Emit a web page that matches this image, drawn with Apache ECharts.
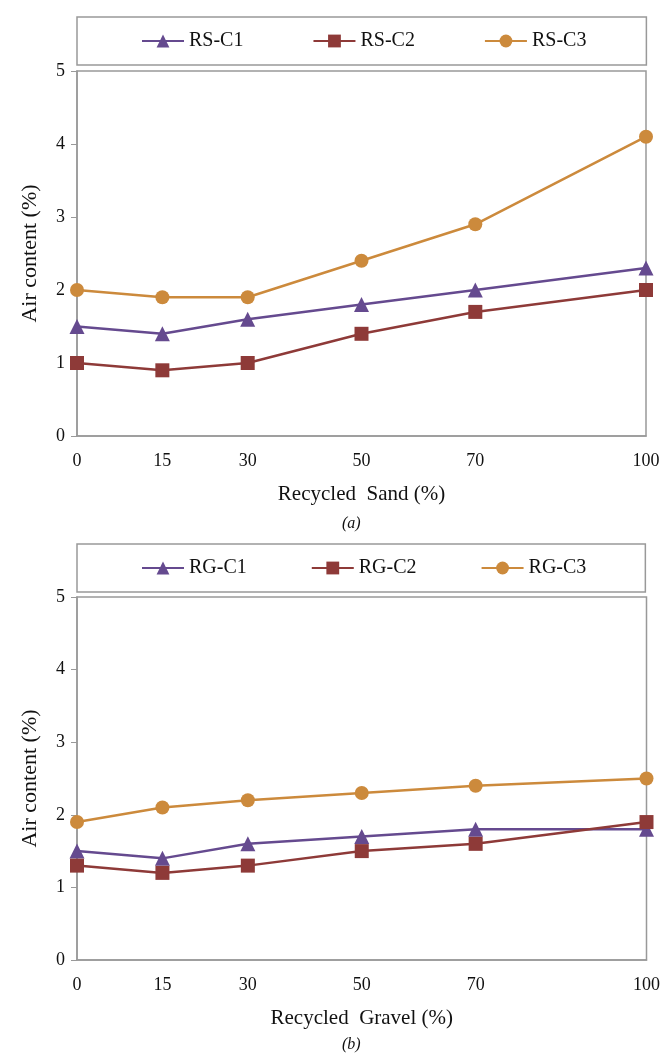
<!DOCTYPE html>
<html>
<head>
<meta charset="utf-8">
<script src="https://cdn.jsdelivr.net/npm/echarts@6/dist/echarts.min.js"></script>
<style>
  html, body { margin: 0; padding: 0; background: #fff; }
  #chart { width: 663px; height: 1053px; }
</style>
</head>
<body>
<div id="chart"></div>
<script>
// x positions (percent replacement)
var xTicks = [0, 15, 30, 50, 70, 100];

// panel (a) - recycled sand
var rsC1 = [1.5, 1.4, 1.6, 1.8, 2.0, 2.3];
var rsC2 = [1.0, 0.9, 1.0, 1.4, 1.7, 2.0];
var rsC3 = [2.0, 1.9, 1.9, 2.4, 2.9, 4.1];

// panel (b) - recycled gravel
var rgC1 = [1.5, 1.4, 1.6, 1.7, 1.8, 1.8];
var rgC2 = [1.3, 1.2, 1.3, 1.5, 1.6, 1.9];
var rgC3 = [1.9, 2.1, 2.2, 2.3, 2.4, 2.5];

var colors = ['#654a8f', '#8e3a38', '#cc8a3c'];
var symbols = ['triangle', 'rect', 'circle'];
var font = '"Liberation Serif", "Times New Roman", serif';

function pairs(vals) {
    return xTicks.map(function (x, i) { return [x, vals[i]]; });
}

function line(name, vals, k, idx) {
    return {
        name: name,
        type: 'line',
        xAxisIndex: idx,
        yAxisIndex: idx,
        data: pairs(vals),
        symbol: symbols[k],
        symbolSize: k === 0 ? 15 : 14,
        color: colors[k],
        lineStyle: { width: 2.5, color: colors[k] },
        itemStyle: { color: colors[k] },
        z: 3 + k
    };
}

function xAxis(idx, title) {
    return {
        type: 'value', gridIndex: idx, min: 0, max: 100,
        name: title, nameLocation: 'middle', nameGap: 48,
        nameTextStyle: { fontFamily: font, fontSize: 21, color: '#111' },
        axisLine: { lineStyle: { color: '#999', width: 1.5 } },
        axisTick: { show: false },
        splitLine: { show: false },
        axisLabel: { customValues: xTicks, fontFamily: font, fontSize: 18, color: '#111', margin: 16 }
    };
}

function yAxis(idx) {
    return {
        type: 'value', gridIndex: idx, min: 0, max: 5, interval: 1,
        name: 'Air content (%)', nameLocation: 'middle', nameGap: 36,
        nameTextStyle: { fontFamily: font, fontSize: 22, color: '#111' },
        axisLine: { show: true, lineStyle: { color: '#999', width: 1.5 } },
        axisTick: { show: true, length: 6, lineStyle: { color: '#999' } },
        splitLine: { show: false },
        axisLabel: { fontFamily: font, fontSize: 18, color: '#111', margin: 12 }
    };
}

function legend(top, names, gap, padR) {
    return {
        data: names, top: top, left: 77,
        padding: [14, padR, 14, 64],
        borderColor: '#999', borderWidth: 1.5,
        itemWidth: 42, itemHeight: 16, itemGap: gap,
        textStyle: { fontFamily: font, fontSize: 20, color: '#111' }
    };
}

var chart = echarts.init(document.getElementById('chart'));
chart.setOption({
    backgroundColor: '#fff',
    animation: false,
    title: [
        { text: '(a)', left: 337, top: 511, textStyle: { fontFamily: font, fontSize: 16, fontStyle: 'italic', fontWeight: 'normal', color: '#111' } },
        { text: '(b)', left: 337, top: 1032, textStyle: { fontFamily: font, fontSize: 16, fontStyle: 'italic', fontWeight: 'normal', color: '#111' } }
    ],
    legend: [
        legend(17, ['RS-C1', 'RS-C2', 'RS-C3'], 69, 60),
        legend(544, ['RG-C1', 'RG-C2', 'RG-C3'], 64, 59)
    ],
    grid: [
        { left: 77, right: 17, top: 71, height: 365, show: true, borderColor: '#999', borderWidth: 1.5 },
        { left: 77, right: 15, top: 597, height: 363, show: true, borderColor: '#999', borderWidth: 1.5 }
    ],
    xAxis: [xAxis(0, 'Recycled  Sand (%)'), xAxis(1, 'Recycled  Gravel (%)')],
    yAxis: [yAxis(0), yAxis(1)],
    series: [
        line('RS-C1', rsC1, 0, 0),
        line('RS-C2', rsC2, 1, 0),
        line('RS-C3', rsC3, 2, 0),
        line('RG-C1', rgC1, 0, 1),
        line('RG-C2', rgC2, 1, 1),
        line('RG-C3', rgC3, 2, 1)
    ]
});
</script>
</body>
</html>
